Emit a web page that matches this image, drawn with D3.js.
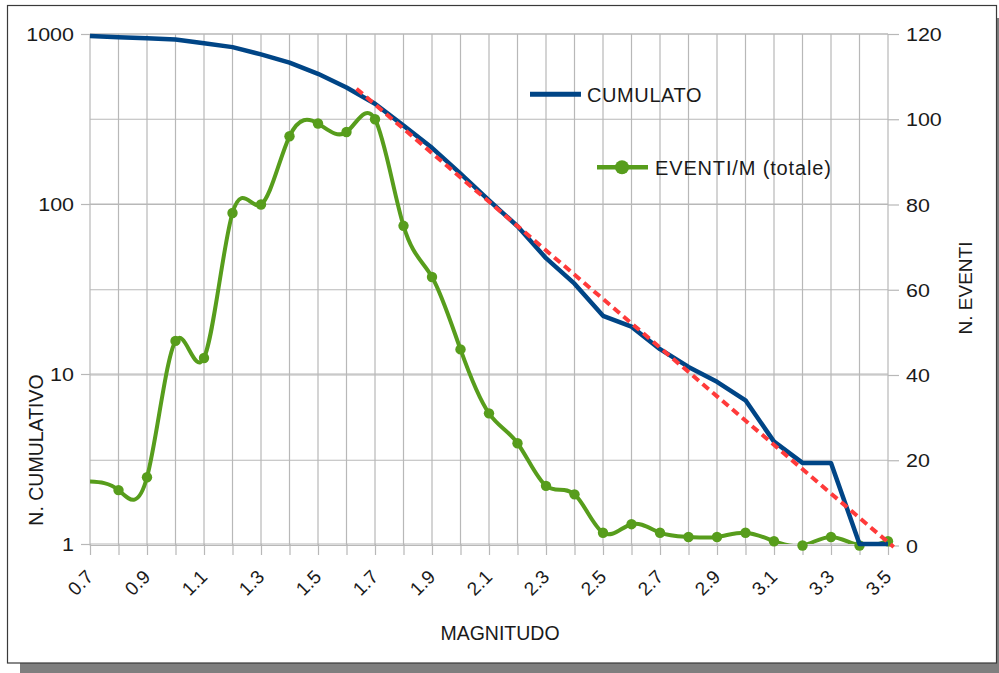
<!DOCTYPE html>
<html>
<head>
<meta charset="utf-8">
<script src="https://cdn.jsdelivr.net/npm/d3@7"></script>
<style>
  html, body { margin: 0; padding: 0; background: #fff; }
  svg { display: block; font-family: "Liberation Sans", Arial, sans-serif; }
</style>
</head>
<body>
<svg id="chart" width="999" height="673"></svg>
<script>
// Magnitude bins (step 0.1)
const magnitudes = [0.7, 0.8, 0.9, 1.0, 1.1, 1.2, 1.3, 1.4, 1.5, 1.6, 1.7, 1.8, 1.9, 2.0,
                    2.1, 2.2, 2.3, 2.4, 2.5, 2.6, 2.7, 2.8, 2.9, 3.0, 3.1, 3.2, 3.3, 3.4, 3.5];
// Cumulative number of events with magnitude >= M (left, log axis)
const cumulative = [973, 958, 945, 929, 881, 837, 759, 679, 583, 484, 389, 289, 214, 151,
                    105, 74, 48, 34, 22, 19, 14, 11, 9, 7, 4, 3, 3, 1, 1];
// Events in each magnitude bin (right, linear axis)
const eventsPerBin = [15, 13, 16, 48, 44, 78, 80, 96, 99, 97, 100, 75, 63, 46,
                      31, 24, 14, 12, 3, 5, 3, 2, 2, 3, 1, 0, 2, 0, 1];
// Gutenberg-Richter fit, end points (M, N)
const fitLine = [{ m: 1.635, n: 477 }, { m: 3.52, n: 0.96 }];

const xTickLabels = ["0.7", "0.9", "1.1", "1.3", "1.5", "1.7", "1.9", "2.1",
                     "2.3", "2.5", "2.7", "2.9", "3.1", "3.3", "3.5"];
const leftTicks = [1, 10, 100, 1000];
const rightTicks = [0, 20, 40, 60, 80, 100, 120];

const seriesNames = ["CUMULATO", "EVENTI/M (totale)"];
const axisTitles = { x: "MAGNITUDO", left: "N. CUMULATIVO", right: "N. EVENTI" };

const COLORS = { cum: "#004586", ev: "#579d1c", fit: "#ff3a3a", grid: "#b8b8b8", text: "#1a1a1a" };
const plot = { left: 90, right: 888, top: 34, bottom: 544 };
const labelStretch = 1.13;

const svg = d3.select("#chart");

// Page frame with drop shadow
svg.append("rect").attr("x", 20).attr("y", 18).attr("width", 979).attr("height", 655).attr("fill", "#7f7f7f");
svg.append("rect").attr("x", 7.5).attr("y", 5.5).attr("width", 989).attr("height", 657.5)
  .attr("fill", "#fff").attr("stroke", "#3a3a3a").attr("stroke-width", 1.2);

const x = d3.scaleLinear().domain([0.7, 3.5]).range([plot.left, plot.right]);
const yL = d3.scaleLog().domain([1, 1000]).range([plot.bottom, plot.top]);
const yR = d3.scaleLinear().domain([0, 120]).range([plot.bottom + 1.5, plot.top]);

// Grid
const grid = svg.append("g").attr("stroke", COLORS.grid).attr("stroke-width", 1.2);
grid.selectAll("line.v").data(magnitudes).join("line").attr("class", "v")
  .attr("x1", d => x(d)).attr("x2", d => x(d)).attr("y1", plot.top).attr("y2", plot.bottom + 1.5);
grid.selectAll("line.hr").data(rightTicks).join("line").attr("class", "hr")
  .attr("x1", plot.left).attr("x2", plot.right).attr("y1", d => yR(d)).attr("y2", d => yR(d));
grid.selectAll("line.hl").data(leftTicks).join("line").attr("class", "hl")
  .attr("x1", plot.left).attr("x2", plot.right).attr("y1", d => yL(d)).attr("y2", d => yL(d));

function styleAxis(g) {
  g.select(".domain").remove();
  g.selectAll(".tick line").attr("stroke", COLORS.grid).attr("stroke-width", 1.2);
  g.selectAll(".tick text").attr("fill", COLORS.text).style("font-family", '"Liberation Sans", Arial, sans-serif');
}

// Left log axis
const gL = svg.append("g").attr("transform", `translate(${plot.left},0)`)
  .call(d3.axisLeft(yL).tickValues(leftTicks).tickFormat(d3.format("d")).tickSize(9));
styleAxis(gL);
gL.selectAll(".tick text").attr("x", 0).attr("dy", "0.35em").style("font-size", "19px")
  .attr("text-anchor", "end").attr("transform", `translate(-16,0) scale(${labelStretch},1)`);

// Right linear axis
const gR = svg.append("g").attr("transform", `translate(${plot.right},0)`)
  .call(d3.axisRight(yR).tickValues(rightTicks).tickSize(11));
styleAxis(gR);
gR.selectAll(".tick text").attr("x", 0).attr("dy", "0.35em").style("font-size", "19px")
  .attr("text-anchor", "start").attr("transform", `translate(18,0) scale(${labelStretch},1)`);

// Bottom axis
const gB = svg.append("g").attr("transform", `translate(0,${plot.bottom})`)
  .call(d3.axisBottom(x).tickValues(magnitudes).tickSize(11)
    .tickFormat(d => { const s = d.toFixed(1); return xTickLabels.includes(s) ? s : ""; }));
styleAxis(gB);
gB.selectAll(".tick text").attr("x", 0).attr("y", 0).attr("dy", null).style("font-size", "19px")
  .attr("text-anchor", "end").attr("transform", "translate(4,34) rotate(-45)");

// Axis titles
svg.append("text").attr("x", 500).attr("y", 639.5).attr("text-anchor", "middle")
  .style("font-size", "19.5px").attr("fill", COLORS.text).text(axisTitles.x);
svg.append("text").attr("transform", "translate(43,450) rotate(-90)").attr("text-anchor", "middle")
  .style("font-size", "19.5px").attr("fill", COLORS.text).text(axisTitles.left);
svg.append("text").attr("transform", "translate(971.5,288) rotate(-90)").attr("text-anchor", "middle")
  .style("font-size", "19px").attr("fill", COLORS.text).text(axisTitles.right);

// Clip for the smoothed events curve
svg.append("clipPath").attr("id", "plotClip").append("rect")
  .attr("x", plot.left).attr("y", plot.top - 10).attr("width", plot.right - plot.left).attr("height", plot.bottom - plot.top + 10);

const evData = magnitudes.map((m, i) => ({ m, v: eventsPerBin[i] }));
const cumData = magnitudes.map((m, i) => ({ m, v: cumulative[i] }));

// Events per bin: smoothed line with markers
svg.append("path").datum(evData).attr("clip-path", "url(#plotClip)")
  .attr("fill", "none").attr("stroke", COLORS.ev).attr("stroke-width", 4).attr("stroke-linejoin", "round")
  .attr("d", d3.line().x(d => x(d.m)).y(d => yR(d.v)).curve(d3.curveNatural));
svg.append("g").selectAll("circle").data(evData.slice(1)).join("circle")
  .attr("cx", d => x(d.m)).attr("cy", d => yR(d.v)).attr("r", 5.2).attr("fill", COLORS.ev);

// Cumulative line
svg.append("path").datum(cumData)
  .attr("fill", "none").attr("stroke", COLORS.cum).attr("stroke-width", 4.5).attr("stroke-linejoin", "round")
  .attr("d", d3.line().x(d => x(d.m)).y(d => yL(d.v)));

// Fitted trend (dashed)
svg.append("path").datum(fitLine)
  .attr("fill", "none").attr("stroke", COLORS.fit).attr("stroke-width", 4).attr("stroke-dasharray", "8,5")
  .attr("d", d3.line().x(d => x(d.m)).y(d => yL(d.n)));

// Legend
const lg = svg.append("g");
lg.append("line").attr("x1", 530).attr("x2", 581).attr("y1", 94.3).attr("y2", 94.3)
  .attr("stroke", COLORS.cum).attr("stroke-width", 5);
lg.append("text").attr("x", 587).attr("y", 101.5).style("font-size", "20px").style("letter-spacing", "0.6px")
  .attr("fill", COLORS.text).text(seriesNames[0]);
lg.append("line").attr("x1", 597).attr("x2", 648).attr("y1", 167.3).attr("y2", 167.3)
  .attr("stroke", COLORS.ev).attr("stroke-width", 4.5);
lg.append("circle").attr("cx", 622).attr("cy", 167.3).attr("r", 7).attr("fill", COLORS.ev);
lg.append("text").attr("x", 655).attr("y", 174.5).style("font-size", "20px").style("letter-spacing", "0.85px")
  .attr("fill", COLORS.text).text(seriesNames[1]);
</script>
</body>
</html>
